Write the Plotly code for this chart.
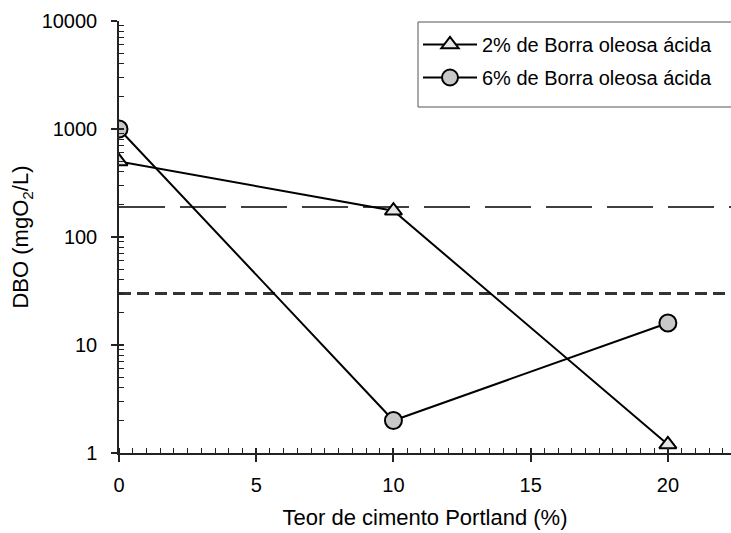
import plotly.graph_objects as go

# ---- data ----
cement = [0, 10, 20]
dbo_2pct = [500, 175, 1.2]
dbo_6pct = [1000, 2, 16]
limit_high = 190
limit_low = 30
x_range_end = 22.3
y_tickvals = [1, 10, 100, 1000, 10000]
y_ticktext = ["1", "10", "100", "1000", "10000"]
x_tickvals = [0, 5, 10, 15, 20]
name_2 = "2% de Borra oleosa ácida"
name_6 = "6% de Borra oleosa ácida"

FONT = "Liberation Sans, Arial, sans-serif"

minor_y = [m * 10 ** d for d in range(4) for m in range(2, 10)]

fig = go.Figure()

# reference limit lines
fig.add_trace(go.Scatter(x=[0, x_range_end], y=[limit_high, limit_high], mode="lines",
                         line=dict(color="black", width=1.5, dash="46px,15px"),
                         showlegend=False, hoverinfo="skip"))
fig.add_trace(go.Scatter(x=[0, x_range_end], y=[limit_low, limit_low], mode="lines",
                         line=dict(color="#333333", width=3, dash="12px,6px"),
                         showlegend=False, hoverinfo="skip"))

fig.add_trace(go.Scatter(x=cement, y=dbo_2pct, mode="lines+markers", name=name_2,
                         legendgroup="a",
                         line=dict(color="black", width=2),
                         marker=dict(symbol="triangle-up", size=15, color="#e6e6e6",
                                     line=dict(color="black", width=2))))
fig.add_trace(go.Scatter(x=cement, y=dbo_6pct, mode="lines+markers", name=name_6,
                         legendgroup="b",
                         line=dict(color="black", width=2),
                         marker=dict(symbol="circle", size=17, color="#c8c8c8",
                                     line=dict(color="black", width=2))))

# overlay axes for the inner half of crossing major ticks
fig.add_trace(go.Scatter(x=[None], y=[None], xaxis="x2", yaxis="y2", showlegend=False))

W, H = 731, 533
L, T = 119, 21
PW, PH = 612, 432

def px_x(p):
    return (p - L) / PW

def px_y(p):
    return (T + PH - p) / PH

fig.update_layout(
    width=W, height=H,
    margin=dict(l=L, r=W - L - PW, t=T, b=H - T - PH, autoexpand=False),
    paper_bgcolor="white", plot_bgcolor="white",
    font=dict(family=FONT, size=20, color="black"),
    xaxis=dict(range=[0, x_range_end], showgrid=False, zeroline=False,
               showline=True, linecolor="#222", linewidth=1.5,
               tickmode="array", tickvals=x_tickvals,
               ticks="outside", ticklen=7, tickwidth=1.5, tickcolor="#222",
               ticklabelstandoff=6, tickfont=dict(color="black", size=20),
               minor=dict(ticks="inside", ticklen=5, tickwidth=1, tickcolor="#222", dtick=0.5,
                          showgrid=False),
               title=dict(text="Teor de cimento Portland (%)", standoff=15,
                          font=dict(size=22, color="black"))),
    yaxis=dict(type="log", range=[0, 4], showgrid=False, zeroline=False,
               showline=True, linecolor="#222", linewidth=1.5,
               tickmode="array", tickvals=y_tickvals, ticktext=y_ticktext,
               ticks="outside", ticklen=6, tickwidth=1.5, tickcolor="#222",
               ticklabelstandoff=10, tickfont=dict(color="black", size=20),
               minor=dict(ticks="inside", ticklen=5, tickwidth=1, tickcolor="#222",
                          tickmode="array", tickvals=minor_y, showgrid=False),
               title=dict(text="DBO (mgO<sub>2</sub>/L)", standoff=7,
                          font=dict(size=22, color="black"))),
    xaxis2=dict(overlaying="x", range=[0, x_range_end], showgrid=False, zeroline=False,
                showline=False, tickmode="array", tickvals=x_tickvals,
                ticks="inside", ticklen=5, tickwidth=1.5, tickcolor="#222",
                showticklabels=False, anchor="y", side="bottom"),
    yaxis2=dict(overlaying="y", type="log", range=[0, 4], showgrid=False, zeroline=False,
                showline=False, tickmode="array", tickvals=y_tickvals,
                ticks="inside", ticklen=5, tickwidth=1.5, tickcolor="#222",
                showticklabels=False, anchor="x", side="left"),
    legend=dict(x=px_x(418), y=px_y(25), xanchor="left", yanchor="top",
                bgcolor="rgba(0,0,0,0)", borderwidth=0,
                font=dict(size=20, family=FONT, color="black"),
                tracegroupgap=4, itemwidth=54),
    shapes=[dict(type="rect", xref="paper", yref="paper",
                 x0=px_x(418), x1=px_x(740), y0=px_y(107), y1=px_y(22),
                 line=dict(color="#555", width=1), fillcolor="rgba(0,0,0,0)")],
    showlegend=True,
)

fig.write_html(
    "out.html",
    config={"displayModeBar": False},
    post_script=("document.body.style.margin='0';"
                 "document.body.style.overflow='hidden';"
                 "document.documentElement.style.overflow='hidden';"),
)
